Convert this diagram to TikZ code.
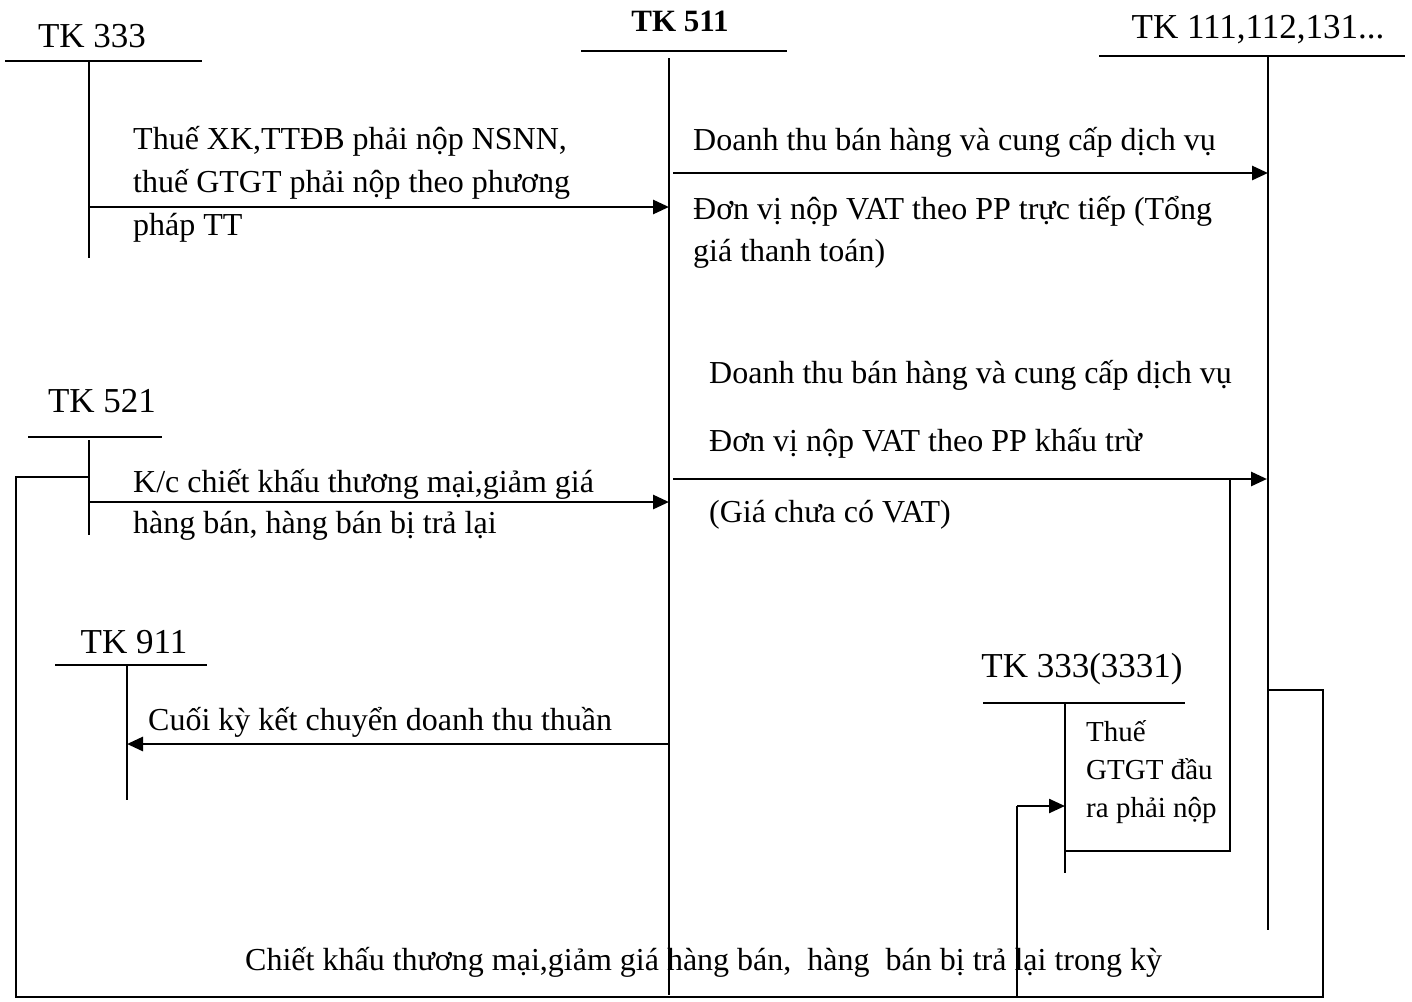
\documentclass[tikz,border=0pt]{standalone}
\usepackage{fontspec}
\setmainfont{Liberation Serif}
\usetikzlibrary{arrows.meta}
\begin{document}
\begin{tikzpicture}[x=1pt,y=-1pt,
  acct/.style={font=\fontsize{35}{40}\selectfont, anchor=base, inner sep=0pt},
  lbl/.style={font=\fontsize{32}{43}\selectfont, anchor=base west, align=left, inner sep=0pt},
  tline/.style={line width=1.8pt},
  wire/.style={line width=1.8pt},
  flow/.style={line width=2.8pt, -{Triangle[length=16pt,width=14pt]}}]
\useasboundingbox[fill=white] (0,0) rectangle (1412,1001);

% ---- T-accounts: title, horizontal bar, vertical stem ----
\node[acct] (t333) at (92,47) {TK 333};
\draw[tline] (5,61) -- (202,61);
\coordinate (s333a) at (89,61); \coordinate (s333b) at (89,258);
\draw[tline] (s333a) -- (s333b);

\node[acct, font=\fontsize{31}{36}\selectfont\bfseries] (t511) at (680,31) {TK 511};
\draw[tline] (581,51) -- (787,51);
\coordinate (s511a) at (669,58); \coordinate (s511b) at (669,995);
\draw[tline] (s511a) -- (s511b);

\node[acct] (t111) at (1258,38) {TK 111,112,131...};
\draw[tline] (1099,56) -- (1405,56);
\coordinate (s111a) at (1268,56); \coordinate (s111b) at (1268,930);
\draw[tline] (s111a) -- (s111b);

\node[acct] (t521) at (102,412) {TK 521};
\draw[tline] (28,437) -- (162,437);
\coordinate (s521a) at (89,440); \coordinate (s521b) at (89,535);
\draw[tline] (s521a) -- (s521b);

\node[acct] (t911) at (134,653) {TK 911};
\draw[tline] (55,665) -- (207,665);
\coordinate (s911a) at (127,665); \coordinate (s911b) at (127,800);
\draw[tline] (s911a) -- (s911b);

\node[acct] (t3331) at (1082,677) {TK 333(3331)};
\draw[tline] (983,703) -- (1185,703);
\coordinate (s3331a) at (1065,703); \coordinate (s3331b) at (1065,873);
\draw[tline] (s3331a) -- (s3331b);

% ---- flows (multi-line labels sit on the baseline of their last line) ----
% TK 333 -> TK 511
\coordinate (f1a) at (89,207); \coordinate (f1b) at (669,207);
\draw[flow] (f1a) -- (f1b);
\node[lbl] (l1) at (133,235) {Thuế XK,TTĐB phải nộp NSNN,\\thuế GTGT phải nộp theo phương\\pháp TT};

% TK 511 -> TK 111 (direct method)
\coordinate (f2a) at (673,173); \coordinate (f2b) at (1268,173);
\draw[flow] (f2a) -- (f2b);
\node[lbl] (l2) at (693,150) {Doanh thu bán hàng và cung cấp dịch vụ};
\node[lbl, font=\fontsize{32}{42}\selectfont] (l3) at (693,261) {Đơn vị nộp VAT theo PP trực tiếp (Tổng\\giá thanh toán)};

% TK 511 -> TK 111 (deduction method)
\coordinate (f3a) at (673,479); \coordinate (f3b) at (1267,479);
\draw[flow] (f3a) -- (f3b);
\node[lbl] (l4) at (709,383) {Doanh thu bán hàng và cung cấp dịch vụ};
\node[lbl] (l5) at (709,451) {Đơn vị nộp VAT theo PP khấu trừ};
\node[lbl] (l6) at (709,522) {(Giá chưa có VAT)};

% output VAT branch to TK 333(3331)
\coordinate (v1) at (1230,479); \coordinate (v2) at (1230,851); \coordinate (v3) at (1065,851);
\draw[wire] (v1) -- (v2) -- (v3);
\node[lbl, font=\fontsize{29}{38}\selectfont] (l7) at (1086,817) {Thuế\\GTGT đầu\\ra phải nộp};

% TK 521 -> TK 511
\coordinate (f4a) at (89,502); \coordinate (f4b) at (669,502);
\draw[flow] (f4a) -- (f4b);
\node[lbl, font=\fontsize{32}{41}\selectfont] (l8) at (133,533) {K/c chiết khấu thương mại,giảm giá\\hàng bán, hàng bán bị trả lại};

% TK 511 -> TK 911
\coordinate (f5a) at (669,744); \coordinate (f5b) at (127,744);
\draw[flow] (f5a) -- (f5b);
\node[lbl] (l9) at (148,730) {Cuối kỳ kết chuyển doanh thu thuần};

% loop from TK 111 round the bottom back to TK 521
\coordinate (r1) at (1268,690); \coordinate (r2) at (1323,690);
\coordinate (r3) at (1323,997); \coordinate (r4) at (16,997);
\coordinate (r5) at (16,477); \coordinate (r6) at (89,477);
\draw[wire] (r1) -- (r2) -- (r3) -- (r4) -- (r5) -- (r6);
\node[lbl] (l10) at (245,970) {Chiết khấu thương mại,giảm giá hàng bán,\ \ hàng\ \ bán bị trả lại trong kỳ};

% branch from the bottom line up to TK 333(3331)
\coordinate (b1) at (1017,997); \coordinate (b2) at (1017,806); \coordinate (b3) at (1065,806);
\draw[wire] (b1) -- (b2);
\draw[flow, line width=2.4pt] (b2) -- (b3);
\end{tikzpicture}
\end{document}
